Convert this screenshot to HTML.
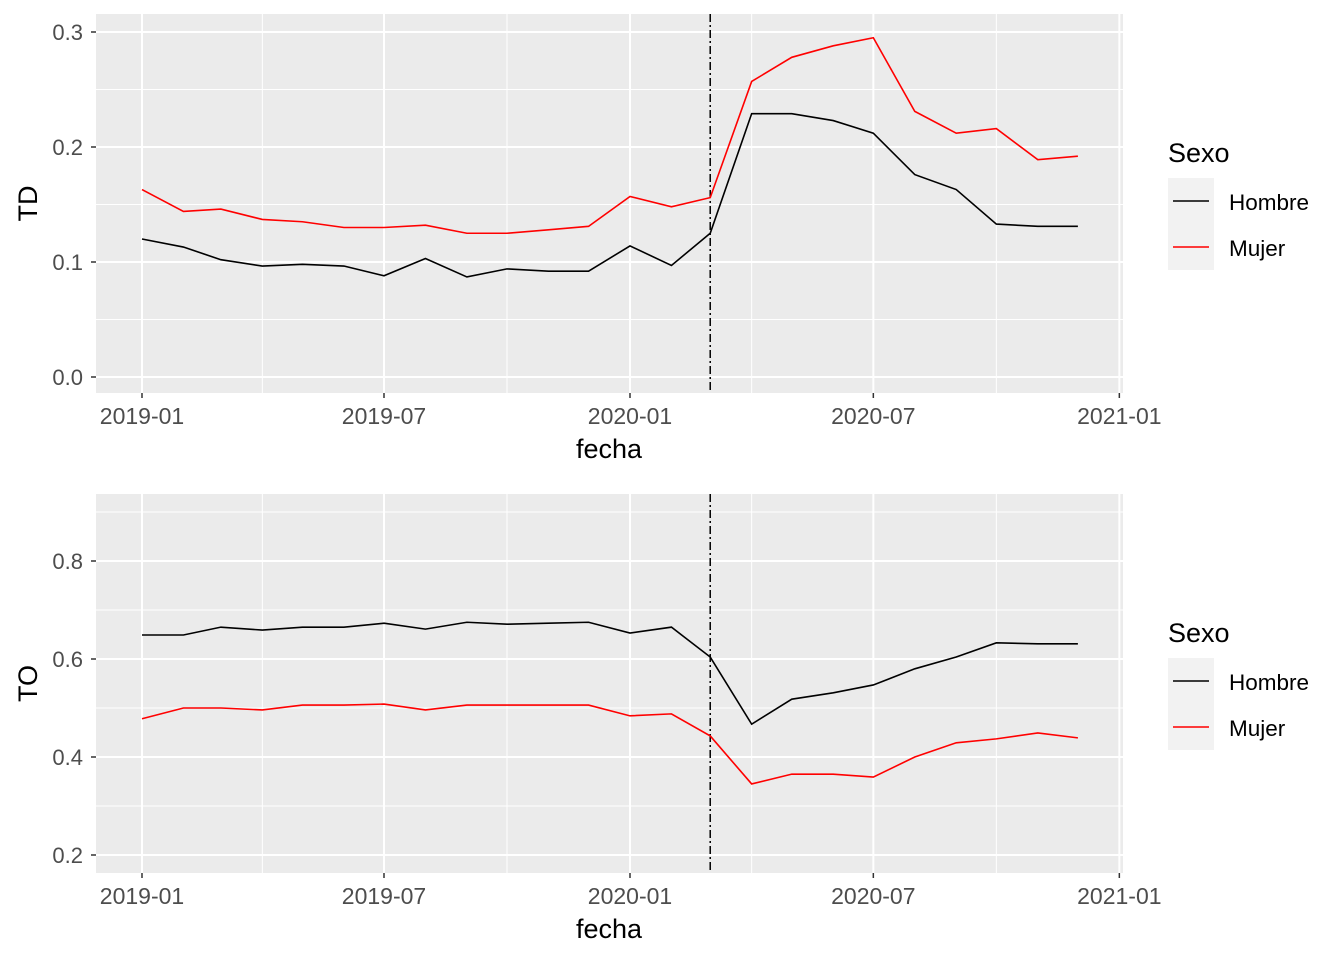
<!DOCTYPE html>
<html><head><meta charset="utf-8"><style>
html,body{margin:0;padding:0;background:#fff;}
svg{display:block;font-family:"Liberation Sans",Arial,sans-serif;}
</style></head><body>
<svg id="chart" width="1344" height="960" viewBox="0 0 1344 960" xmlns="http://www.w3.org/2000/svg"></svg>
<script>
const months = ["2019-01","2019-02","2019-03","2019-04","2019-05","2019-06","2019-07","2019-08","2019-09","2019-10","2019-11","2019-12","2020-01","2020-02","2020-03","2020-04","2020-05","2020-06","2020-07","2020-08","2020-09","2020-10","2020-11","2020-12"];
const tdHombre = [0.120,0.113,0.102,0.0965,0.098,0.0965,0.088,0.103,0.087,0.094,0.092,0.092,0.114,0.097,0.125,0.229,0.229,0.223,0.212,0.176,0.163,0.133,0.131,0.131];
const tdMujer = [0.163,0.144,0.146,0.137,0.135,0.130,0.130,0.132,0.125,0.125,0.128,0.131,0.157,0.148,0.156,0.257,0.278,0.288,0.295,0.231,0.212,0.216,0.189,0.192];
const toHombre = [0.649,0.649,0.665,0.659,0.665,0.665,0.673,0.661,0.675,0.671,0.673,0.675,0.653,0.665,0.604,0.467,0.518,0.531,0.547,0.580,0.604,0.633,0.631,0.631];
const toMujer = [0.478,0.500,0.500,0.496,0.506,0.506,0.508,0.496,0.506,0.506,0.506,0.506,0.484,0.488,0.443,0.345,0.365,0.365,0.359,0.400,0.429,0.437,0.449,0.439];
const xTickLabels = ["2019-01","2019-07","2020-01","2020-07","2021-01"];
const xMinorDates = ["2019-04","2019-10","2020-04","2020-10"];
const tdTicks = [0.0,0.1,0.2,0.3];
const toTicks = [0.2,0.4,0.6,0.8];
const vlineDate = "2020-03";

const NS="http://www.w3.org/2000/svg";
const svg=document.getElementById('chart');
function el(tag,attrs,parent){const e=document.createElementNS(NS,tag);for(const k in attrs)e.setAttribute(k,attrs[k]);(parent||svg).appendChild(e);return e;}
function days(m){const [y,mo]=m.split('-').map(Number);return (Date.UTC(y,mo-1,1)-Date.UTC(2019,0,1))/86400000;}
const X0=142, X1=630;
function xs(m){return X0+days(m)*(X1-X0)/365;}

function panel(cfg){
  const g=el('g',{});
  
  
  const {top,bottom,left,right}=cfg;
  const ys=v=>cfg.y0px+(v-cfg.y0v)*cfg.scale;
  const bg=el('rect',{x:left,y:top,width:right-left,height:bottom-top,fill:'#EBEBEB'},g);
  
  
  for(let i=0;i<cfg.ticks.length-1;i++){const v=(cfg.ticks[i]+cfg.ticks[i+1])/2;el('line',{x1:left,x2:right,y1:ys(v),y2:ys(v),stroke:'#fff','stroke-width':1},g);}
  const step=cfg.ticks[1]-cfg.ticks[0];
  [cfg.ticks[0]-step/2,cfg.ticks[cfg.ticks.length-1]+step/2].forEach(v=>{const y=ys(v);if(y>top&&y<bottom)el('line',{x1:left,x2:right,y1:y,y2:y,stroke:'#fff','stroke-width':1},g);});
  xMinorDates.forEach(m=>el('line',{x1:xs(m),x2:xs(m),y1:top,y2:bottom,stroke:'#fff','stroke-width':1},g));
  cfg.ticks.forEach(v=>{
    const y=ys(v);
    el('line',{x1:left,x2:right,y1:y,y2:y,stroke:'#fff','stroke-width':2},g);
    el('line',{x1:left-5,x2:left,y1:y,y2:y,stroke:'#333','stroke-width':1.5},g);
    const t=el('text',{x:left-13,y:y+8,'text-anchor':'end','font-size':22,fill:'#4D4D4D'},g);
    t.textContent=v.toFixed(1);
    
    
  });
  xTickLabels.forEach(m=>{
    const x=xs(m);
    el('line',{x1:x,x2:x,y1:top,y2:bottom,stroke:'#fff','stroke-width':2},g);
    el('line',{x1:x,x2:x,y1:bottom,y2:bottom+5,stroke:'#333','stroke-width':1.5},g);
    const t=el('text',{x:x,y:bottom+31,'text-anchor':'middle','font-size':23,fill:'#4D4D4D'},g);
    t.textContent=m;
    
    
  });
  const vx=xs(vlineDate);
  const vl=el('line',{x1:vx,x2:vx,y1:top,y2:bottom,stroke:'#000','stroke-width':1.5,'stroke-dasharray':'8 3 2 3'},g);
  
  
  [[cfg.h,'#000','hombre'],[cfg.m,'#FF0000','mujer']].forEach(([arr,col,n])=>{
    const p=el('polyline',{points:arr.map((v,i)=>xs(months[i])+','+ys(v)).join(' '),fill:'none',stroke:col,'stroke-width':1.6},g);
    
    
  });
  const xt=el('text',{x:609,y:bottom+65,'text-anchor':'middle','font-size':27,fill:'#000'},g);
  xt.textContent='fecha';
  
  
  const cy=(top+bottom)/2;
  const yt=el('text',{x:37,y:cy,'text-anchor':'middle','font-size':27,fill:'#000',transform:'rotate(-90 37 '+cy+')'},g);
  yt.textContent=cfg.title;
  
  
  const lg=el('g',{},g);
  
  
  const lt=cfg.legTop;
  const tt=el('text',{x:1168,y:lt-16,'font-size':27,fill:'#000'},lg);
  tt.textContent='Sexo';
  
  
  [['Hombre','#000'],['Mujer','#FF0000']].forEach(([lab,col],i)=>{
    const y=lt+i*46;
    el('rect',{x:1168,y:y,width:46,height:46,fill:'#F2F2F2'},lg);
    el('line',{x1:1173,x2:1209,y1:y+23,y2:y+23,stroke:col,'stroke-width':1.6},lg);
    const t=el('text',{x:1229,y:y+32,'font-size':22.5,fill:'#000'},lg);
    t.textContent=lab;
    
    
  });
}
panel({name:'td',title:'TD',top:14,bottom:393,left:96,right:1123,y0px:377,y0v:0,scale:-1150,ticks:tdTicks,h:tdHombre,m:tdMujer,legTop:178});
panel({name:'to',title:'TO',top:494,bottom:873,left:96,right:1123,y0px:659,y0v:0.6,scale:-490,ticks:toTicks,h:toHombre,m:toMujer,legTop:658});
</script>
</body></html>
